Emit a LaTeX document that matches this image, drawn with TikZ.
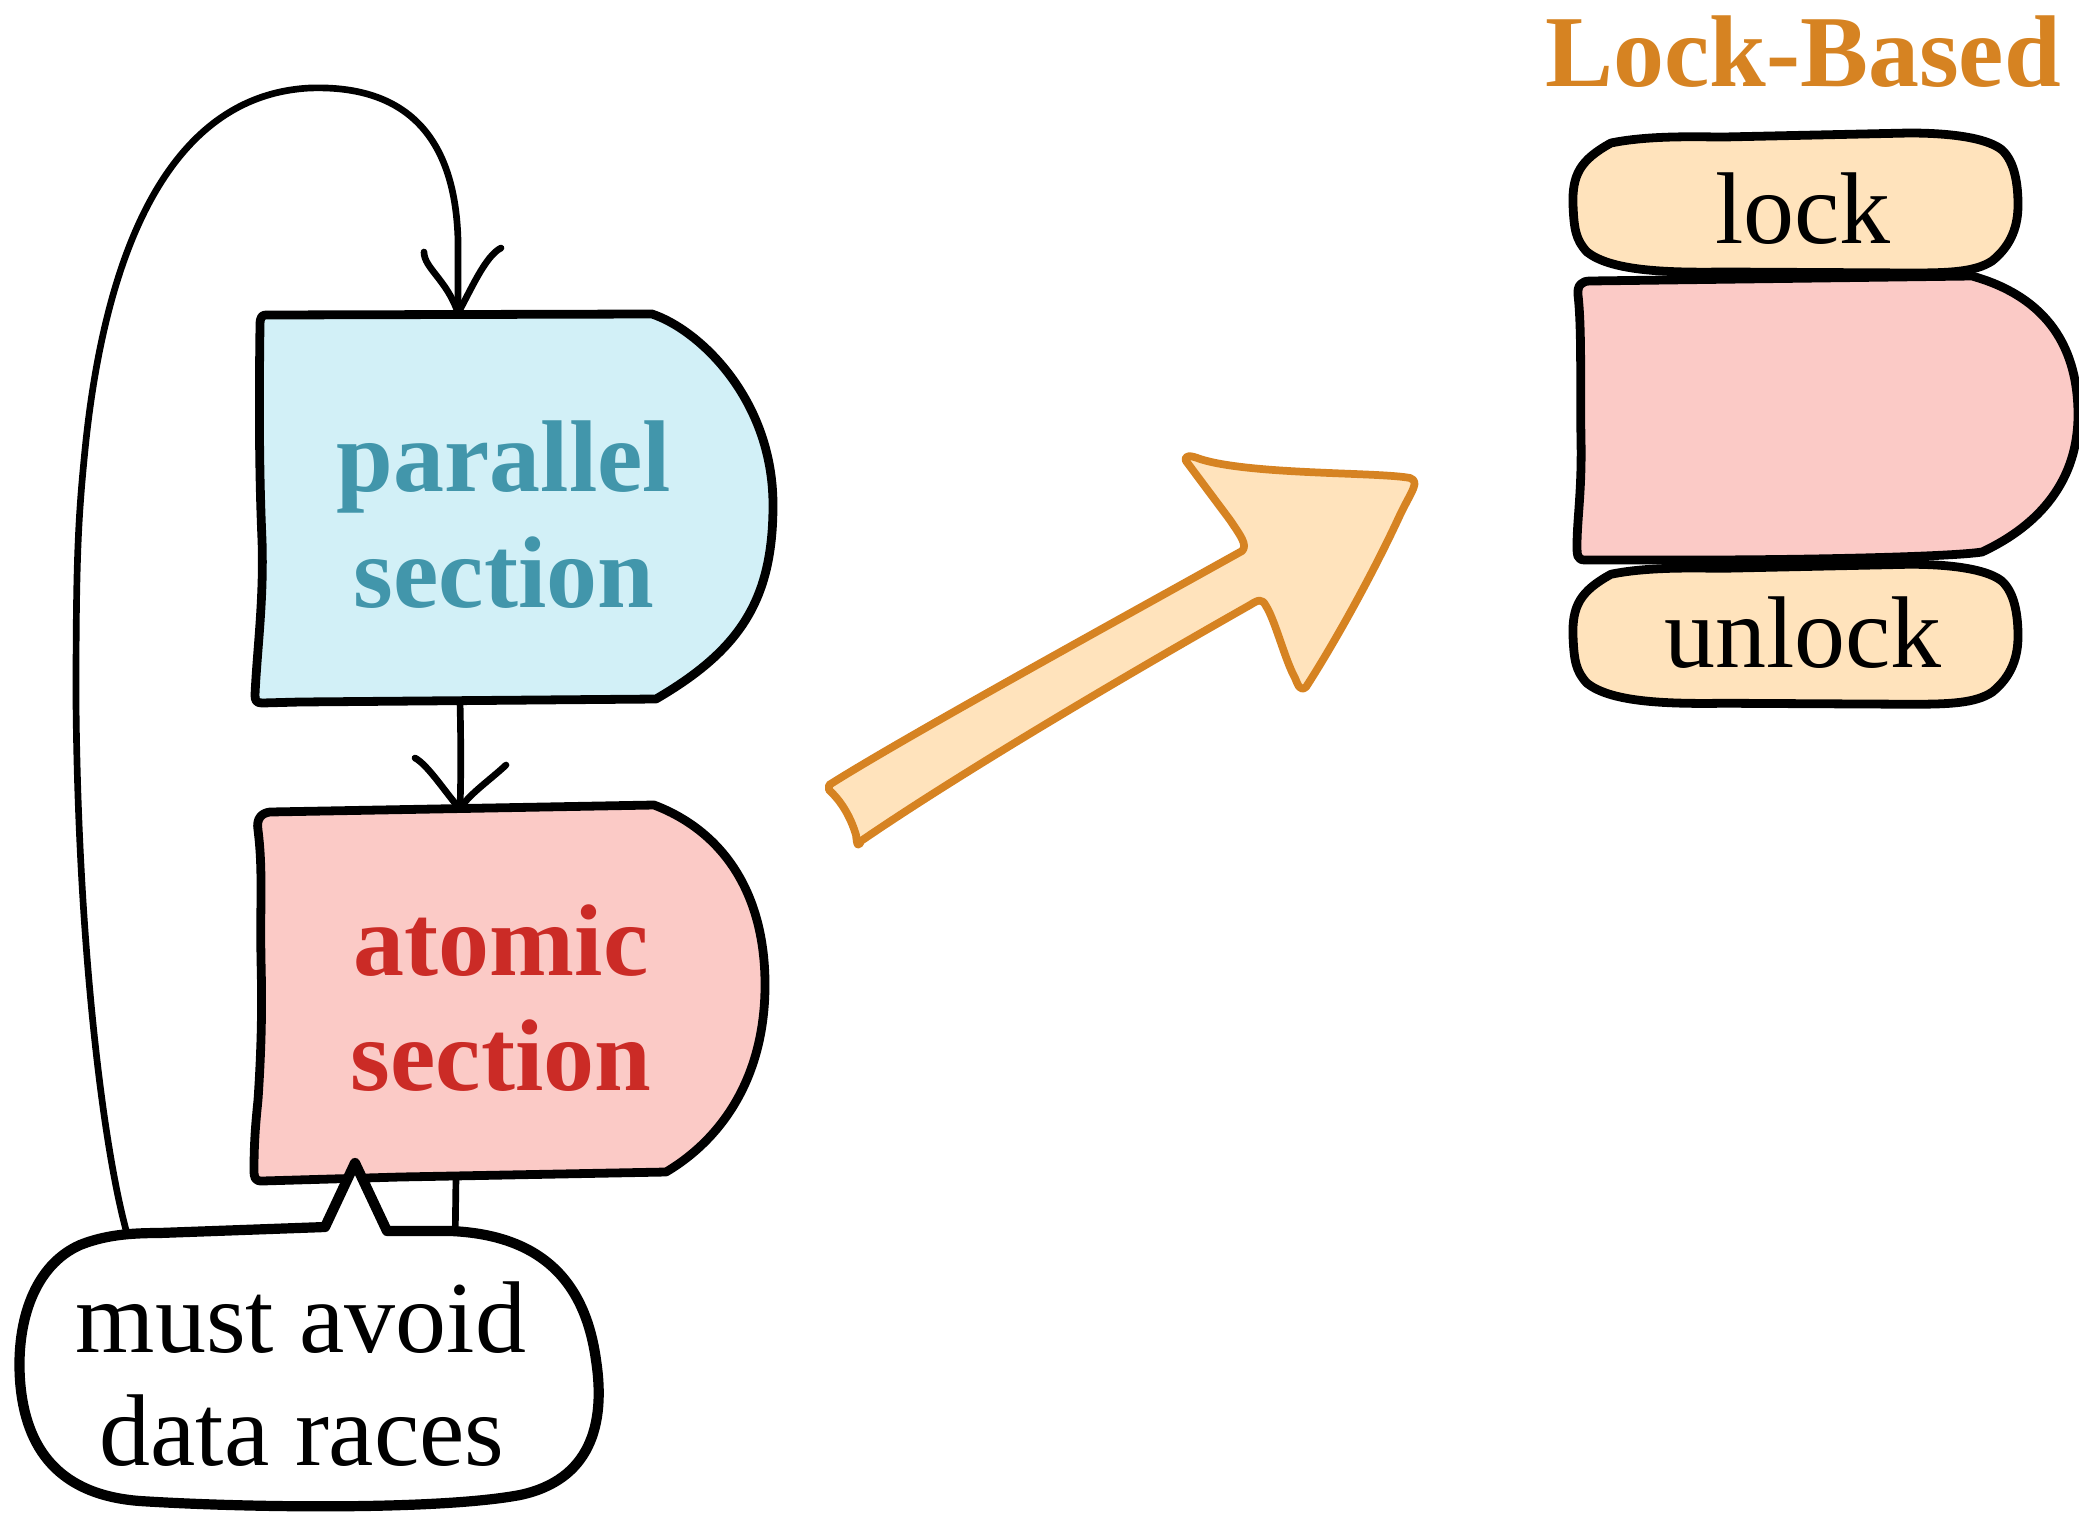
\documentclass[tikz,border=0pt]{standalone}
\usepackage{fontspec}
\setmainfont{Liberation Serif}
\definecolor{parfill}{HTML}{D2F0F7}
\definecolor{partext}{HTML}{4296AB}
\definecolor{atofill}{HTML}{FBCAC6}
\definecolor{atotext}{HTML}{CB2B26}
\definecolor{lockfill}{HTML}{FFE3BC}
\definecolor{orangeline}{HTML}{D68322}
\begin{document}
\begin{tikzpicture}[x=0.01cm,y=-0.01cm,
  boxline/.style={line width=2.5pt, line join=round, line cap=round},
  link/.style={line width=1.9pt, line cap=round, line join=round},
  lbl/.style={anchor=base, inner sep=0pt, font=\fontsize{29}{33}\selectfont},
  hdr/.style={anchor=base, inner sep=0pt, font=\fontsize{29}{33}\selectfont\bfseries}]
\useasboundingbox (0,0) rectangle (2079,1512);
\clip (0,0) rectangle (2079,1512);

% connector end points on the two section shapes
\coordinate (par-n) at (458,313);
\coordinate (par-s) at (460,702);
\coordinate (ato-n) at (460,809);
\coordinate (ato-s) at (456,1177);

% loop back from the atomic section to the parallel section
\draw[link] (ato-s) -- (455,1250) .. controls (450,1330) and (150,1300) .. (132,1250)
  .. controls (105,1170) and (78,950) .. (76,700)
  .. controls (76,560) and (78,520) .. (85,450)
  .. controls (105,250) and (170,95) .. (310,88)
  .. controls (400,85) and (455,130) .. (458,240) -- (par-n);
\draw[link] (424,252) .. controls (424,268) and (447,280) .. (par-n);
\draw[link] (501,248) .. controls (485,256) and (470,292) .. (par-n);

% parallel section
\draw[boxline, fill=parfill] (266,315) -- (652,314) .. controls (700,330) and (773,400) .. (773,505) .. controls (773,600) and (740,650) .. (656,699) -- (300,702) -- (262,703) .. controls (256,703) and (255,700) .. (255,695) .. controls (257,650) and (264,600) .. (262,540) .. controls (259,470) and (259,400) .. (260,325) .. controls (260,317) and (262,315) .. (266,315) -- cycle;
\node[hdr, text=partext] (par1) at (504,491) {parallel};
\node[hdr, text=partext] (par2) at (504,607) {section};

% atomic section
\draw[boxline, fill=atofill] (270,812) -- (654,805) .. controls (720,830) and (766,890) .. (765,988) .. controls (764,1080) and (720,1140) .. (666,1172) -- (400,1177) -- (262,1181) .. controls (255,1181) and (254,1178) .. (254,1170) .. controls (254,1140) and (256,1120) .. (258,1100) .. controls (262,1040) and (262,1000) .. (261,960) .. controls (260,900) and (263,870) .. (258,830) .. controls (256,818) and (262,813) .. (270,812) -- cycle;
\node[hdr, text=atotext] (ato1) at (501,975) {atomic};
\node[hdr, text=atotext] (ato2) at (501,1090) {section};

% parallel -> atomic
\draw[link] (par-s) .. controls (461,740) and (461,780) .. (ato-n);
\draw[link] (415,758) .. controls (428,765) and (445,792) .. (ato-n);
\draw[link] (506,765) .. controls (490,780) and (468,795) .. (ato-n);

% speech bubble
\draw[line width=2.9pt, line join=round, fill=white] (387,1231) -- (451,1231) .. controls (540,1235) and (585,1280) .. (596,1360) .. controls (606,1425) and (590,1480) .. (520,1495) .. controls (440,1510) and (250,1508) .. (140,1501) .. controls (60,1495) and (25,1450) .. (20,1380) .. controls (16,1320) and (35,1265) .. (80,1245) .. controls (105,1235) and (130,1233) .. (159,1233) -- (325,1227) -- (355,1163) -- cycle;
\node[lbl] (note1) at (301,1352) {must avoid};
\node[lbl] (note2) at (302,1465) {data races};

% transition arrow
\draw[line width=2.2pt, draw=orangeline, fill=lockfill, line join=round] (829,785) .. controls (900,740) and (1100,630) .. (1242,551) .. controls (1248,545) and (1240,535) .. (1230,520) -- (1186,461) .. controls (1184,455) and (1190,455) .. (1200,459) .. controls (1250,475) and (1380,472) .. (1410,478) .. controls (1420,482) and (1412,490) .. (1400,515) .. controls (1370,580) and (1330,650) .. (1306,687) .. controls (1300,692) and (1298,685) .. (1295,678) .. controls (1285,660) and (1275,620) .. (1266,606) .. controls (1262,598) and (1258,600) .. (1250,605) .. controls (1100,690) and (950,780) .. (861,841) .. controls (858,848) and (857,845) .. (856,835) .. controls (850,815) and (840,800) .. (829,790) -- cycle;

% lock-based scheme
\node[hdr, text=orangeline] (title) at (1803,86) {Lock-Based};
\foreach \dy in {0,-4.31}{
  \begin{scope}[yshift=\dy cm]
    \draw[boxline, fill=lockfill] (1611,143) .. controls (1650,135) and (1700,137) .. (1724,137) -- (1909,133) .. controls (1960,133) and (1990,140) .. (2002,150) .. controls (2015,162) and (2018,185) .. (2018,205) .. controls (2018,225) and (2012,245) .. (1992,261) .. controls (1975,272) and (1950,273) .. (1910,273) -- (1724,272) .. controls (1660,273) and (1610,270) .. (1587,252) .. controls (1576,240) and (1574,230) .. (1573,205) .. controls (1572,175) and (1580,160) .. (1611,143) -- cycle;
  \end{scope}
}
\draw[boxline, fill=atofill] (1590,281) -- (1972,276) .. controls (2040,295) and (2078,340) .. (2078,415) .. controls (2078,480) and (2040,525) .. (1982,552) .. controls (1950,557) and (1800,560) .. (1700,560) -- (1585,560) .. controls (1577,560) and (1577,555) .. (1577,545) .. controls (1577,520) and (1582,490) .. (1581,440) .. controls (1580,390) and (1582,330) .. (1578,295) .. controls (1577,285) and (1582,281) .. (1590,281) -- cycle;
\node[lbl] (lock) at (1803,243) {lock};
\node[lbl] (unlock) at (1803,667) {unlock};
\end{tikzpicture}
\end{document}
